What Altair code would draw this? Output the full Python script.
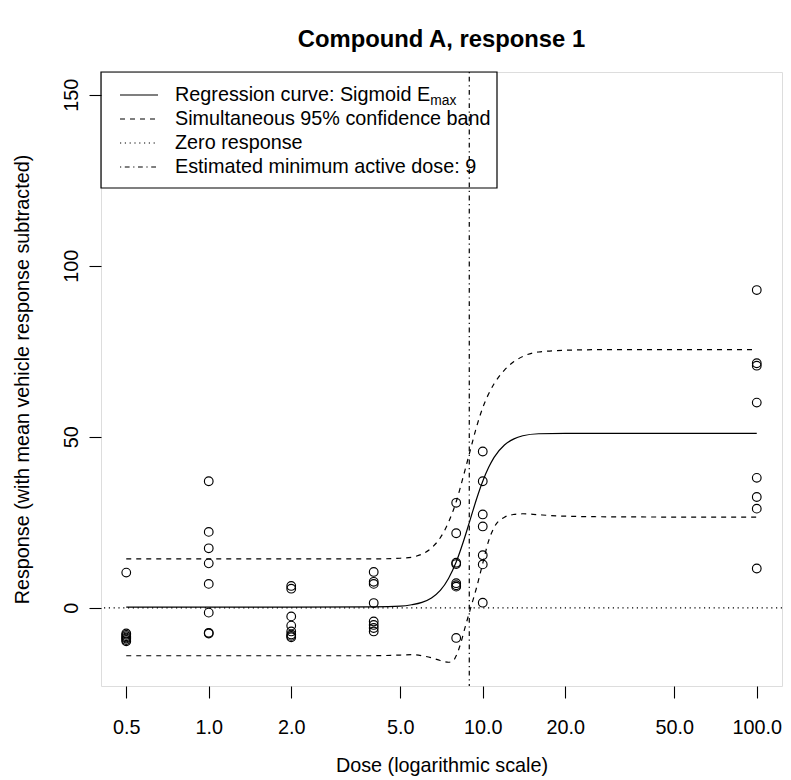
import altair as alt
import pandas as pd

FONT = "Liberation Sans"
FS = 19.8

dose_levels = [0.5, 1, 2, 4, 8, 10, 100]
responses = [
    [10.3, -7.5, -7.9, -8.3, -8.7, -9.0, -9.4, -9.8],
    [37.0, 22.2, 17.4, 13.0, 7.0, -1.4, -7.3, -7.5],
    [6.4, 5.6, -2.5, -5.2, -6.9, -7.8, -8.2, -8.6],
    [10.5, 7.6, 7.0, 1.4, -4.0, -5.0, -5.9, -6.9],
    [30.7, 21.8, 13.2, 12.8, 7.2, 6.6, 6.2, -8.8],
    [45.7, 37.0, 27.3, 23.8, 15.4, 12.7, 1.5],
    [92.9, 71.5, 70.8, 60.0, 38.0, 32.4, 29.0, 11.5],
]

# ---- regression curve
curve_dose = [0.5, 1, 2, 4, 5, 5.5, 6, 6.5, 7, 7.5, 8, 8.5, 9, 9.5, 10, 10.5,
              11, 12, 13, 14, 16, 20, 30, 50, 100]
curve_resp = [0.2, 0.2, 0.2, 0.3, 0.5, 0.9, 1.6, 2.9, 5.1, 8.6, 13.4, 19.4, 25.8,
              31.9, 37.0, 41.0, 44.0, 47.6, 49.4, 50.3, 50.9, 51.0, 51.0, 51.0, 51.0]

# ---- simultaneous 95% band
upper_dose = [0.5, 1, 2, 4, 5, 5.5, 6, 6.5, 7, 7.5, 8, 8.5, 9, 9.5, 10, 10.5,
              11, 12, 13, 14, 16, 20, 30, 50, 100]
upper_resp = [14.3, 14.3, 14.3, 14.3, 14.5, 14.8, 15.7, 17.5, 20.5, 25.0, 31.0,
              38.5, 46.0, 53.0, 58.5, 62.5, 65.5, 69.5, 72.0, 73.5, 74.8, 75.3,
              75.5, 75.5, 75.5]
lower_dose = [0.5, 1, 2, 4, 5, 5.5, 6, 6.5, 7, 7.5, 7.8, 8, 8.3, 8.6, 9, 9.5,
              10, 10.5, 11, 12, 13, 14, 16, 20, 30, 100]
lower_resp = [-14.0, -14.0, -14.0, -14.0, -13.8, -13.7, -14.0, -14.6, -15.4,
              -15.9, -15.5, -14.0, -10.5, -6.0, -0.5, 6.0, 13.0, 19.5, 23.5,
              26.5, 27.3, 27.5, 27.2, 26.8, 26.6, 26.5]

min_active_dose = [8.93]
zero_line = [0]

x_ticks = [0.5, 1, 2, 5, 10, 20, 50, 100]
y_ticks = [0, 50, 100, 150]

legend_labels = ["Regression curve: Sigmoid E", "Simultaneous 95% confidence band",
                 "Zero response", "Estimated minimum active dose: 9"]
legend_dashes = [[1, 0], [5, 5], [1.2, 3.6], [1.2, 3.6, 4.8, 3.6]]

# ---- tables
obs_rows = []
for d, rs in zip(dose_levels, responses):
    for r in rs:
        obs_rows.append({"dose": d, "resp": r})
obs_df = pd.DataFrame(obs_rows)
curve_df = pd.DataFrame({"dose": curve_dose, "resp": curve_resp})
upper_df = pd.DataFrame({"dose": upper_dose, "resp": upper_resp})
lower_df = pd.DataFrame({"dose": lower_dose, "resp": lower_resp})
mad_df = pd.DataFrame({"dose": min_active_dose})
zero_df = pd.DataFrame({"resp": zero_line})
one = pd.DataFrame({"a": [0]})

W, H = 681, 614
xscale = alt.Scale(type="log", domain=[0.40442, 123.63], nice=False)
yscale = alt.Scale(domain=[-22.85, 156.65], nice=False, zero=False)

xaxis = alt.Axis(values=x_ticks, format=".1f", title="Dose (logarithmic scale)",
                 grid=False, domain=False, ticks=True, tickSize=12, tickColor="black",
                 tickWidth=1.1, labelFont=FONT, labelFontSize=FS, labelColor="black",
                 labelBaseline="alphabetic", labelPadding=35, labelAlign="center",
                 labelFlush=False, labelOverlap=False,
                 titleFont=FONT, titleFontSize=FS, titleFontWeight="normal",
                 titleColor="black", titleBaseline="alphabetic", titleY=85,
                 titleX=W / 2, titleAlign="center")
yaxis = alt.Axis(values=y_ticks, format="d", title="Response (with mean vehicle response subtracted)",
                 grid=False, domain=False, ticks=True, tickSize=12, tickColor="black",
                 tickWidth=1.1, labelFont=FONT, labelFontSize=FS, labelColor="black",
                 labelAngle=270, labelAlign="center", labelBaseline="alphabetic",
                 labelPadding=12, labelFlush=False, labelOverlap=False,
                 titleFont=FONT, titleFontSize=FS, titleFontWeight="normal",
                 titleColor="black", titleAngle=270, titleAlign="center",
                 titleBaseline="alphabetic", titleX=-73, titleY=H / 2)

X = alt.X("dose:Q", scale=xscale, axis=xaxis)
Y = alt.Y("resp:Q", scale=yscale, axis=yaxis)

LW = 1.2
curve = alt.Chart(curve_df).mark_line(color="black", strokeWidth=LW, interpolate="monotone").encode(x=X, y=Y)
upper = alt.Chart(upper_df).mark_line(color="black", strokeWidth=LW, strokeDash=[5, 5], interpolate="monotone").encode(x=X, y=Y)
lower = alt.Chart(lower_df).mark_line(color="black", strokeWidth=LW, strokeDash=[5, 5], interpolate="monotone").encode(x=X, y=Y)
points = alt.Chart(obs_df).mark_point(shape="circle", filled=False, color="black", size=75, strokeWidth=1.15, opacity=1).encode(x=X, y=Y)
zero = alt.Chart(zero_df).mark_rule(color="black", strokeWidth=LW, strokeDash=[1.2, 3.6]).encode(y=Y)
mad = alt.Chart(mad_df).mark_rule(color="black", strokeWidth=LW, strokeDash=[1.2, 3.6, 4.8, 3.6]).encode(x=X)

# ---- legend box (drawn as decoration)
layers = [zero, lower, upper, curve, points, mad]
box = alt.Chart(one).mark_rect(fillOpacity=0, stroke="black", strokeWidth=LW).encode(
    x=alt.value(0), x2=alt.value(396), y=alt.value(0), y2=alt.value(116))
layers.append(box)
for i, (lbl, dash) in enumerate(zip(legend_labels, legend_dashes)):
    yy = 23 + 24 * i
    layers.append(alt.Chart(one).mark_rule(color="black", strokeWidth=LW, strokeDash=dash).encode(
        x=alt.value(19), x2=alt.value(57), y=alt.value(yy)))
    layers.append(alt.Chart(one).mark_text(align="left", baseline="middle", font=FONT,
                                           fontSize=FS, color="black").encode(
        x=alt.value(74), y=alt.value(yy), text=alt.value(lbl)))
layers.append(alt.Chart(one).mark_text(align="left", baseline="middle", font=FONT,
                                       fontSize=13.8, color="black").encode(
    x=alt.value(74 + 12.89 * FS), y=alt.value(23 + 6), text=alt.value("max")))

chart = alt.layer(*layers).properties(
    width=W, height=H,
    title=alt.TitleParams("Compound A, response 1", font=FONT, fontSize=23.8,
                          fontWeight="bold", color="black", anchor="middle",
                          baseline="alphabetic", offset=1),
    padding={"left": 93, "top": 64, "right": 1, "bottom": 92},
    autosize=alt.AutoSizeParams(type="none"),
).configure_view(stroke="black", strokeWidth=LW).configure(background="white")

chart.save("out.html", embed_options={"renderer": "svg", "actions": False})
